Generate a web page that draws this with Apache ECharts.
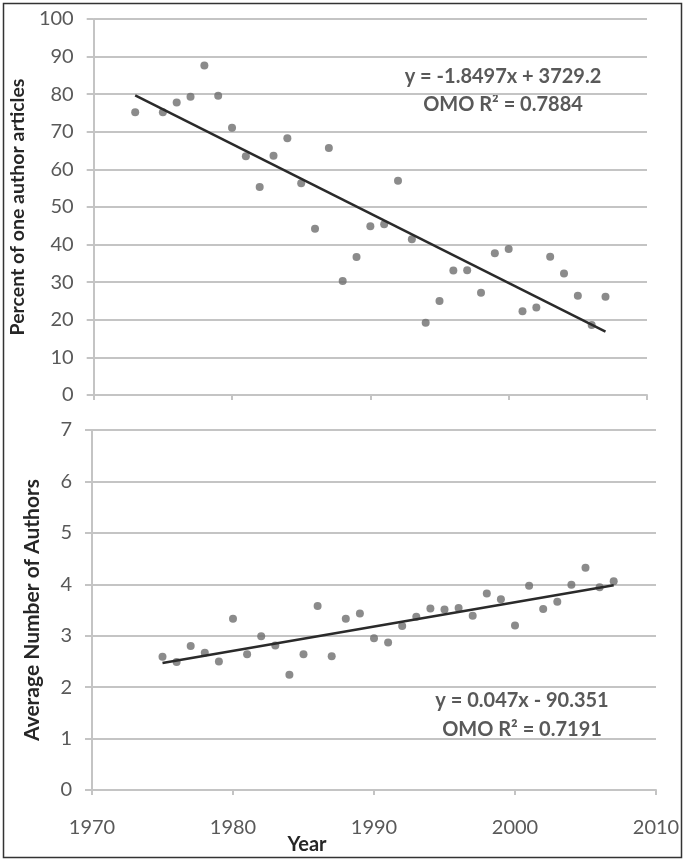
<!DOCTYPE html>
<html>
<head>
<meta charset="utf-8">
<script src="https://cdn.jsdelivr.net/npm/echarts@6/dist/echarts.min.js"></script>
<style>html,body{margin:0;padding:0;background:#fff}#c{width:685px;height:861px}</style>
</head>
<body>
<div id="c"></div>
<script>
// Top panel: percent of one-author articles
const yearsTop = [1973,1975,1976,1977,1978,1979,1980,1981,1982,1983,1984,1985,1986,1987,1988,1989,1990,1991,1992,1993,1994,1995,1996,1997,1998,1999,2000,2001,2002,2003,2004,2005,2006,2007];
const pctOneAuthor = [75.2,75.2,77.8,79.3,87.6,79.6,71.1,63.5,55.3,63.6,68.3,56.3,44.2,65.7,30.3,36.7,44.9,45.4,57.0,41.4,19.2,25.0,33.1,33.2,27.2,37.7,38.8,22.3,23.3,36.8,32.3,26.4,18.6,26.1];
const trendTopX = [1973, 2007];
const trendTopY = [79.7, 16.85];
const eqTop = ["y = -1.8497x + 3729.2", "OMO R\u00b2 = 0.7884"];

// Bottom panel: average number of authors
const yearsBottom = [1975,1976,1977,1978,1979,1980,1981,1982,1983,1984,1985,1986,1987,1988,1989,1990,1991,1992,1993,1994,1995,1996,1997,1998,1999,2000,2001,2002,2003,2004,2005,2006,2007];
const avgAuthors = [2.59,2.49,2.80,2.67,2.50,3.33,2.64,2.99,2.81,2.24,2.64,3.58,2.60,3.33,3.43,2.95,2.87,3.19,3.37,3.53,3.51,3.54,3.39,3.82,3.71,3.20,3.97,3.52,3.66,3.99,4.32,3.94,4.06];
const trendBotX = [1975, 2007];
const trendBotY = [2.47, 3.98];
const eqBottom = ["y = 0.047x - 90.351", "OMO R\u00b2 = 0.7191"];
const xTitle = "Year";

const font = 'Lato, "Open Sans", sans-serif';
const txt = '#595959';
const gridCol = '#c4c4c4';
const zip = (a, b) => a.map((v, i) => [v, b[i]]);

const chart = echarts.init(document.getElementById('c'));
const xBase = (gi, showLabel) => ({
  type: 'value', gridIndex: gi, min: 1970, max: 2010, interval: 10,
  axisLine: { show: true, onZero: false, lineStyle: { color: gridCol, width: 2 } },
  axisTick: { show: true, length: 5, lineStyle: { color: gridCol, width: 2 } },
  splitLine: { show: false },
  axisLabel: { show: showLabel, color: txt, fontFamily: font, fontSize: 20, margin: 28, formatter: v => String(v) }
});
const yBase = (gi, max, interval, name, nameGap, nameSize) => ({
  type: 'value', gridIndex: gi, min: 0, max: max, interval: interval,
  name: name, nameLocation: 'middle', nameGap: nameGap, nameRotate: 90,
  nameTextStyle: { fontFamily: font, fontWeight: 'bold', fontSize: nameSize, color: '#262626' },
  axisLine: { show: true, lineStyle: { color: gridCol, width: 2 } },
  axisTick: { show: true, length: 7, lineStyle: { color: gridCol, width: 2 } },
  splitLine: { show: true, lineStyle: { color: gridCol, width: 2 } },
  axisLabel: { color: txt, fontFamily: font, fontSize: 20, margin: 20 }
});

const eqStyle = { fill: txt, font: 'bold 20px ' + font, textAlign: 'center', textVerticalAlign: 'middle' };

chart.setOption({
  animation: false,
  backgroundColor: '#fff',
  grid: [
    { left: 92, top: 19, width: 555, height: 376 },
    { left: 92, top: 430, width: 564, height: 360 }
  ],
  xAxis: [xBase(0, false), xBase(1, true)],
  yAxis: [
    yBase(0, 100, 10, 'Percent of one author articles', 61, 19.5),
    yBase(1, 7, 1, 'Average Number of Authors', 49, 21)
  ],
  series: [
    { type: 'scatter', xAxisIndex: 0, yAxisIndex: 0, data: zip(yearsTop, pctOneAuthor), symbolSize: 8, itemStyle: { color: '#6e6e6e' }, z: 2 },
    { type: 'line', xAxisIndex: 0, yAxisIndex: 0, data: zip(trendTopX, trendTopY), symbol: 'none', lineStyle: { color: '#2a2a2a', width: 2.5 }, z: 3 },
    { type: 'scatter', xAxisIndex: 1, yAxisIndex: 1, data: zip(yearsBottom, avgAuthors), symbolSize: 8, itemStyle: { color: '#6e6e6e' }, z: 2 },
    { type: 'line', xAxisIndex: 1, yAxisIndex: 1, data: zip(trendBotX, trendBotY), symbol: 'none', lineStyle: { color: '#2a2a2a', width: 2.5 }, z: 3 }
  ],
  graphic: [
    { type: 'rect', shape: { x: 3.5, y: 3.5, width: 678, height: 854 }, style: { fill: 'none', stroke: '#333', lineWidth: 1.5 }, silent: true },
    { type: 'text', x: 503, y: 77, style: Object.assign({ text: eqTop[0] }, eqStyle) },
    { type: 'text', x: 503, y: 105, style: Object.assign({ text: eqTop[1] }, eqStyle) },
    { type: 'text', x: 522, y: 701, style: Object.assign({ text: eqBottom[0] }, eqStyle) },
    { type: 'text', x: 522, y: 730, style: Object.assign({ text: eqBottom[1] }, eqStyle) },
    { type: 'text', x: 307, y: 845, style: { text: xTitle, fill: '#262626', font: 'bold 20px ' + font, textAlign: 'center', textVerticalAlign: 'middle' } }
  ]
});
</script>
</body>
</html>
